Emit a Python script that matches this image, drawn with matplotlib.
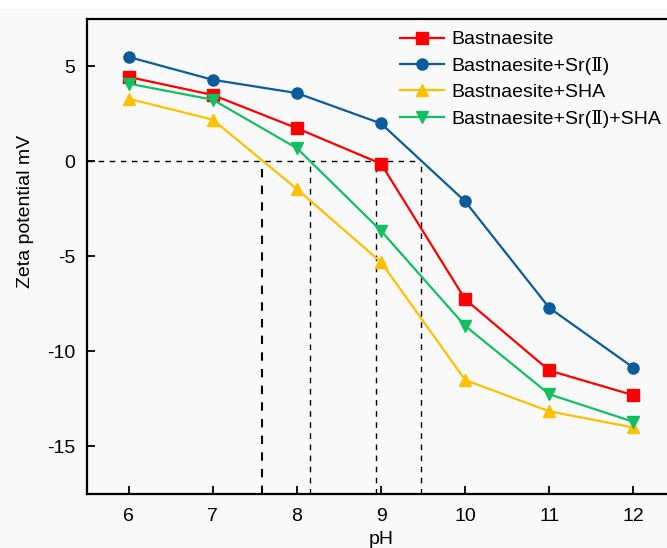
import matplotlib
matplotlib.use("Agg")
import matplotlib.pyplot as plt
from matplotlib.patches import Rectangle

plt.rcParams["font.family"] = ["Liberation Sans", "DejaVu Serif", "DejaVu Sans"]
plt.rcParams["axes.unicode_minus"] = False

# ─── data ──────────────────────────────────────────────────────────────────
ph = [6, 7, 8, 9, 10, 11, 12]
bast = [4.45, 3.5, 1.75, -0.12, -7.25, -11.0, -12.3]
bast_sr = [5.5, 4.3, 3.6, 2.0, -2.1, -7.7, -10.85]
bast_sha = [3.3, 2.2, -1.45, -5.3, -11.5, -13.15, -14.0]
bast_sr_sha = [4.1, 3.25, 0.7, -3.65, -8.65, -12.25, -13.7]

labels = ["Bastnaesite", "Bastnaesite+Sr(Ⅱ)", "Bastnaesite+SHA",
          "Bastnaesite+Sr(Ⅱ)+SHA"]
colors = ["#ff0000", "#0a5c9a", "#ffc000", "#12c064"]
markers = ["s", "o", "^", "v"]

# isoelectric points (dashed guides)
iep = [7.59, 8.15, 8.94, 9.48]

BG = "#f9f9f9"
W, H = 667, 548
fig = plt.figure(figsize=(W / 100, H / 100), dpi=100)
fig.patch.set_facecolor(BG)
fig.patches.append(Rectangle((0, 1 - 9 / H), 1, 9 / H, transform=fig.transFigure,
                             facecolor="white", edgecolor="none", zorder=0))

# axes run past the right edge of the figure, as in the reference crop
left, bottom, top = 86.7 / W, (H - 494) / H, (H - 19) / H
ax_w = 8 * 84.1
ax = fig.add_axes([left, bottom, ax_w / W, top - bottom])
ax.set_facecolor(BG)

for y, lab, c, m in zip([bast, bast_sr, bast_sha, bast_sr_sha], labels, colors, markers):
    ax.plot(ph, y, color=c, marker=m, markersize=8, linewidth=1.6, label=lab,
            clip_on=False, zorder=3)

ax.plot([5.5, iep[-1]], [0, 0], color="black", linestyle=(0, (4, 4)), linewidth=1.0, zorder=2)
for i, x in enumerate(iep):
    ax.plot([x, x], [-17.5, 0], color="black", linestyle=(0, (4, 4)),
            linewidth=1.5 if i == 0 else 1.0, zorder=2)

ax.set_xlim(5.5, 13.5)
ax.set_ylim(-17.5, 7.5)
ax.set_xticks(ph)
ax.set_yticks([5, 0, -5, -10, -15])
ax.tick_params(direction="in", length=6, width=1.3, labelsize=14)
ax.tick_params(axis="x", pad=10)
ax.tick_params(axis="y", pad=8)
for s in ax.spines.values():
    s.set_linewidth(1.6)

ax.set_xlabel("pH", fontsize=14)
ax.set_ylabel("Zeta potential mV", fontsize=14)
ax.xaxis.set_label_coords((381 - 86.7) / ax_w, -(531 - 494) / 475)
ax.yaxis.set_label_coords((34 - 86.7) / ax_w, (494 - 211) / 475)

ax.legend(loc="upper left", bbox_to_anchor=(390 / W, 1 - 21 / H),
          bbox_transform=fig.transFigure, frameon=False, fontsize=14,
          borderpad=0, handlelength=2.3, handletextpad=0.35, labelspacing=0.44)

fig.savefig("out.png", dpi=100, facecolor=BG)
